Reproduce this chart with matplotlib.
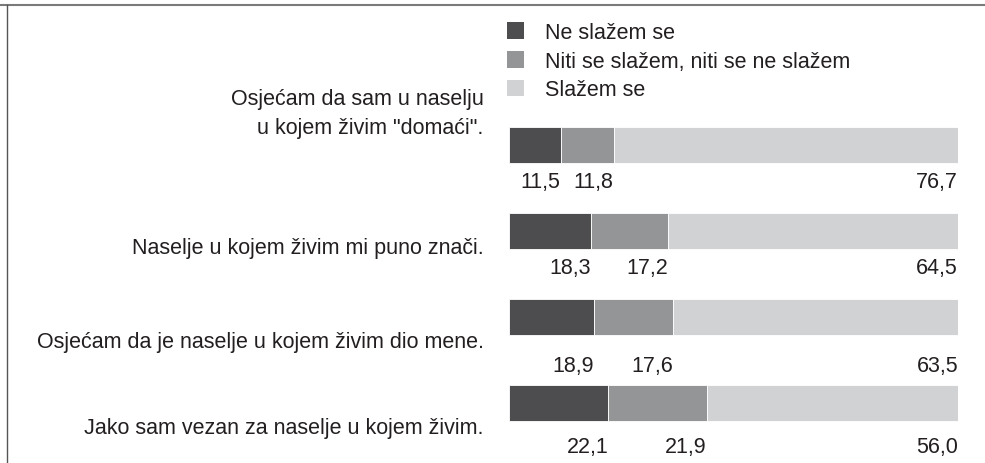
import matplotlib.pyplot as plt
from matplotlib.lines import Line2D
from matplotlib.patches import Patch
import numpy as np

plt.rcParams["font.family"] = ["Liberation Sans", "DejaVu Sans"]

statements = [
    'Osjećam da sam u naselju\nu kojem živim "domaći".',
    "Naselje u kojem živim mi puno znači.",
    "Osjećam da je naselje u kojem živim dio mene.",
    "Jako sam vezan za naselje u kojem živim.",
]
series_names = ["Ne slažem se", "Niti se slažem, niti se ne slažem", "Slažem se"]
disagree = [11.5, 18.3, 18.9, 22.1]
neutral = [11.8, 17.2, 17.6, 21.9]
agree = [76.7, 64.5, 63.5, 56.0]

colors = ["#4d4d4f", "#949597", "#d1d2d4"]
text_color = "#231f20"
font_size = 15.5

# vertical nudges (in row units) for the statement and value labels
statement_shift = [-0.37, 0.19, 0.29, 0.29]
value_shift = [0.42, 0.42, 0.56, 0.51]

fig = plt.figure(figsize=(9.85, 4.64), dpi=100)
ax = fig.add_axes([509 / 985, 0, 449 / 985, 1])

rows = np.arange(len(statements))
left = np.zeros(len(statements))
for name, values, color in zip(series_names, [disagree, neutral, agree], colors):
    values = np.array(values)
    ax.barh(rows, values, left=left, height=0.42, color=color,
            edgecolor="white", linewidth=0.6, label=name)
    ends = left + values
    for r, end, v in zip(rows, ends, values):
        ax.text(end, r + value_shift[r], f"{v:.1f}".replace(".", ","),
                ha="right", va="center", fontsize=font_size, color=text_color)
    left = ends

for r, label in zip(rows, statements):
    ax.text(-5.6, r + statement_shift[r], label, ha="right", va="center",
            fontsize=font_size, color=text_color, linespacing=1.5)

ax.set_xlim(0, 100)
ax.set_ylim(3.698, -1.698)
ax.axis("off")

handles = [Patch(facecolor=c, edgecolor="none") for c in colors]
fig.legend(handles, series_names, loc="upper left",
           bbox_to_anchor=(507 / 985, 1 - 23 / 464), frameon=False,
           fontsize=font_size, handlelength=0.8, handleheight=0.8,
           handletextpad=0.95, labelspacing=0.36, borderpad=0,
           borderaxespad=0, labelcolor=text_color)

# frame lines along the top and left edges
fig.add_artist(Line2D([0, 1], [1 - 5.5 / 464] * 2, color="#7a7a7a", lw=1.5))
fig.add_artist(Line2D([7 / 985] * 2, [0, 1 - 5.5 / 464], color="#555555", lw=1.0))

fig.savefig("out.png", dpi=100)
